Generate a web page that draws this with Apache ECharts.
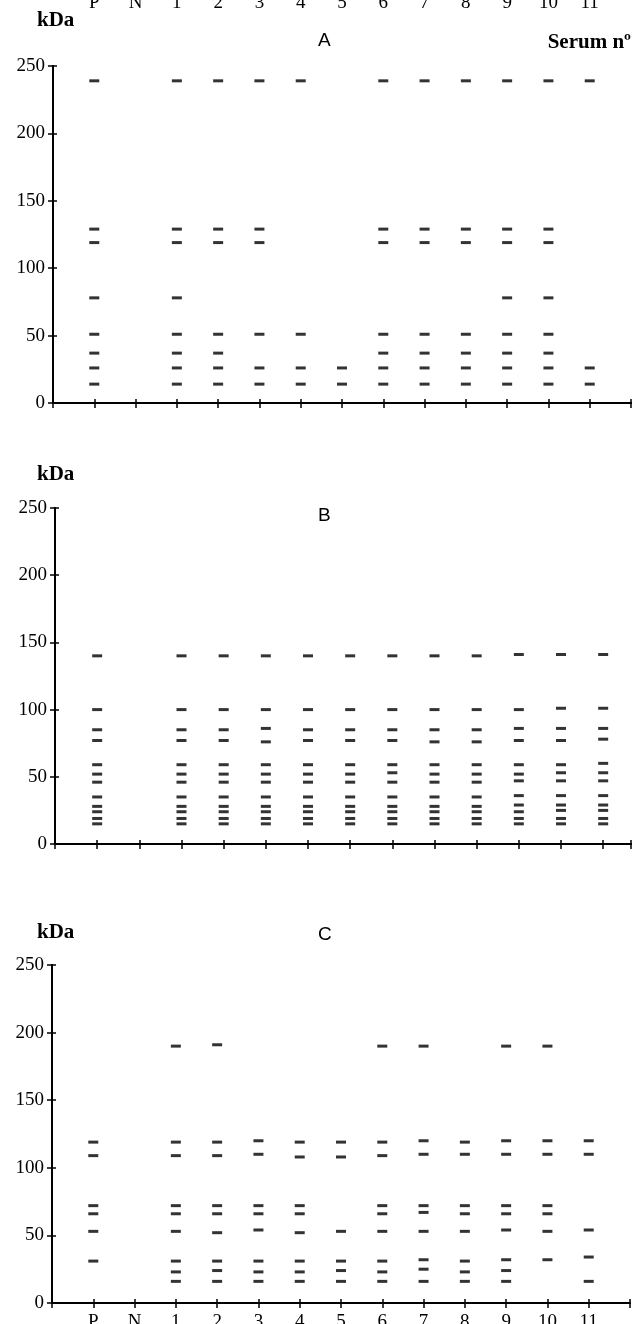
<!DOCTYPE html>
<html>
<head>
<meta charset="utf-8">
<script src="https://cdn.jsdelivr.net/npm/echarts@6/dist/echarts.min.js"></script>
<style>
html,body{margin:0;padding:0;background:#fff;}
#chart{width:637px;height:1324px;}
</style>
</head>
<body>
<div id="chart"></div>
<script>
// Lane (serum) labels
const lanes = ['P','N','1','2','3','4','5','6','7','8','9','10','11'];
const yTickValues = [0, 50, 100, 150, 200, 250];
const panelTitles = ['A', 'B', 'C'];

// Band positions (kDa) per lane, panel A
const bandsA = [
  [239,129,119,78,51,37,26,14],   // P
  [],                              // N
  [239,129,119,78,51,37,26,14],   // 1
  [239,129,119,51,37,26,14],      // 2
  [239,129,119,51,26,14],         // 3
  [239,51,26,14],                 // 4
  [26,14],                        // 5
  [239,129,119,51,37,26,14],      // 6
  [239,129,119,51,37,26,14],      // 7
  [239,129,119,51,37,26,14],      // 8
  [239,129,119,78,51,37,26,14],   // 9
  [239,129,119,78,51,37,26,14],   // 10
  [239,26,14]                     // 11
];

// Panel B
const bandsB = [
  [140,100,85,77,59,52,46,35,28,24,19,15],  // P
  [],                                        // N
  [140,100,85,77,59,52,46,35,28,24,19,15],  // 1
  [140,100,85,77,59,52,46,35,28,24,19,15],  // 2
  [140,100,86,76,59,52,46,35,28,24,19,15],  // 3
  [140,100,85,77,59,52,46,35,28,24,19,15],  // 4
  [140,100,85,77,59,52,46,35,28,24,19,15],  // 5
  [140,100,85,77,59,53,46,35,28,24,19,15],  // 6
  [140,100,85,76,59,52,46,35,28,24,19,15],  // 7
  [140,100,85,76,59,52,46,35,28,24,19,15],  // 8
  [141,100,86,77,59,52,47,36,29,24,19,15],  // 9
  [141,101,86,77,59,53,47,36,29,25,19,15],  // 10
  [141,101,86,78,60,53,47,36,29,25,19,15]   // 11
];

// Panel C
const bandsC = [
  [119,109,72,66,53,31],              // P
  [],                                  // N
  [190,119,109,72,66,53,31,23,16],    // 1
  [191,119,109,72,66,52,31,24,16],    // 2
  [120,110,72,66,54,31,23,16],        // 3
  [119,108,72,66,52,31,23,16],        // 4
  [119,108,53,31,24,16],              // 5
  [190,119,109,72,66,53,31,23,16],    // 6
  [190,120,110,72,67,53,32,25,16],    // 7
  [119,110,72,66,53,31,23,16],        // 8
  [190,120,110,72,66,54,32,24,16],    // 9
  [190,120,110,72,66,53,32],          // 10
  [120,110,54,34,16]                  // 11
];

function toPoints(bands) {
  const pts = [];
  bands.forEach((arr, i) => arr.forEach(v => pts.push([i + 1, v])));
  return pts;
}
const laneFmt = v => (Number.isInteger(v) && v >= 1 && v <= lanes.length) ? lanes[v - 1] : '';

const serif = '"Liberation Serif", "DejaVu Serif", serif';
const sans = '"Liberation Sans", Arial, sans-serif';

const grids = [
  {left: 53, right: 6, top: 66, height: 337, outerBoundsMode: 'none', containLabel: false},
  {left: 55, right: 6, top: 508, height: 336, outerBoundsMode: 'none', containLabel: false},
  {left: 52, right: 7, top: 965, height: 338, outerBoundsMode: 'none', containLabel: false}
];
const xMax = [14, 13.66, 14];

const xAxes = [], yAxes = [], series = [];
const allBands = [bandsA, bandsB, bandsC];

grids.forEach((g, gi) => {
  const base = {
    type: 'value', gridIndex: gi, min: 0, max: xMax[gi], interval: 1,
    splitLine: {show: false},
    axisLine: {show: true, onZero: false, lineStyle: {color: '#000', width: 2}},
  };
  // main bottom axis (ticks down)
  xAxes.push(Object.assign({}, base, {
    position: 'bottom',
    axisTick: {show: true, length: 5, lineStyle: {color: '#000', width: 1.5}},
    axisLabel: {show: gi === 2, formatter: laneFmt, margin: 10, color: '#000',
                fontFamily: serif, fontSize: 19}
  }));
  const mainX = xAxes.length - 1;
  // inner ticks (up)
  xAxes.push(Object.assign({}, base, {
    position: 'bottom',
    axisTick: {show: true, inside: true, length: 4, lineStyle: {color: '#000', width: 1.5}},
    axisLabel: {show: false}
  }));
  if (gi === 0) {
    // clipped lane labels at very top of panel A
    xAxes.push(Object.assign({}, base, {
      position: 'top',
      axisLine: {show: false},
      axisTick: {show: false},
      axisLabel: {show: true, formatter: laneFmt, margin: 53, color: '#000',
                  fontFamily: serif, fontSize: 19}
    }));
  }
  const ybase = {
    type: 'value', gridIndex: gi, min: 0, max: 250, interval: 50,
    position: 'left',
    splitLine: {show: false},
    axisLine: {show: true, onZero: false, lineStyle: {color: '#000', width: 2}},
  };
  yAxes.push(Object.assign({}, ybase, {
    axisTick: {show: true, length: 5, lineStyle: {color: '#000', width: 1.5}},
    axisLabel: {show: true, margin: 8, color: '#000', fontFamily: serif, fontSize: 19,
                formatter: v => yTickValues.includes(v) ? String(v) : ''}
  }));
  const mainY = yAxes.length - 1;
  yAxes.push(Object.assign({}, ybase, {
    axisTick: {show: true, inside: true, length: 4, lineStyle: {color: '#000', width: 1.5}},
    axisLabel: {show: false}
  }));
  series.push({
    type: 'scatter', xAxisIndex: mainX, yAxisIndex: mainY,
    symbol: 'rect', symbolSize: [10, 3],
    itemStyle: {color: '#000'},
    data: toPoints(allBands[gi]),
    silent: true
  });
});

const titles = [
  {text: 'kDa', left: 37, top: 10, textStyle: {fontFamily: serif, fontWeight: 'bold', fontSize: 21, color: '#000'}},
  {text: 'kDa', left: 37, top: 464, textStyle: {fontFamily: serif, fontWeight: 'bold', fontSize: 21, color: '#000'}},
  {text: 'kDa', left: 37, top: 922, textStyle: {fontFamily: serif, fontWeight: 'bold', fontSize: 21, color: '#000'}},
  {text: 'Serum nº', right: 6, top: 32, textStyle: {fontFamily: serif, fontWeight: 'bold', fontSize: 21, color: '#000'}},
  {text: panelTitles[0], left: 318, top: 31, textStyle: {fontFamily: sans, fontWeight: 'normal', fontSize: 19, color: '#000'}},
  {text: panelTitles[1], left: 318, top: 506, textStyle: {fontFamily: sans, fontWeight: 'normal', fontSize: 19, color: '#000'}},
  {text: panelTitles[2], left: 318, top: 925, textStyle: {fontFamily: sans, fontWeight: 'normal', fontSize: 19, color: '#000'}}
].map(t => Object.assign({padding: 0}, t));

const chart = echarts.init(document.getElementById('chart'), null, {renderer: 'canvas'});
chart.setOption({
  backgroundColor: '#fff',
  animation: false,
  title: titles,
  grid: grids,
  xAxis: xAxes,
  yAxis: yAxes,
  series: series
});
</script>
</body>
</html>
